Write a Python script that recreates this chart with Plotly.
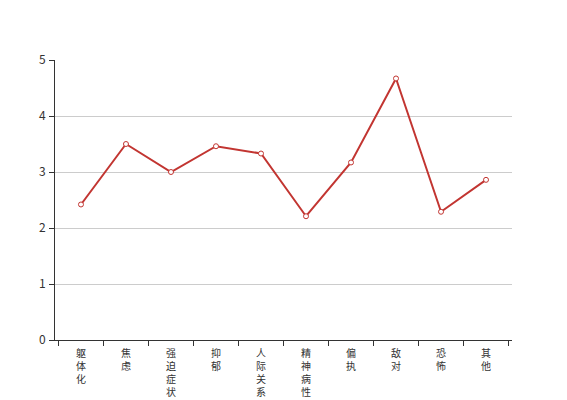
import plotly.graph_objects as go

# SCL-90 factor scores
categories = ["躯体化", "焦虑", "强迫症状", "抑郁", "人际关系敏感",
              "精神病性", "偏执", "敌对", "恐怖", "其他"]
scores = [2.42, 3.50, 3.00, 3.46, 3.33, 2.21, 3.17, 4.67, 2.29, 2.86]
y_ticks = [0, 1, 2, 3, 4, 5]

# stack characters vertically like the original axis labels
vertical_labels = ["<br>".join(list(c)) for c in categories]

fig = go.Figure()
fig.add_trace(go.Scatter(
    x=categories, y=scores,
    mode="lines+markers",
    line=dict(color="#c23531", width=2),
    marker=dict(symbol="circle", size=5, color="white",
                line=dict(color="#c23531", width=1)),
))

# page body has an 8px margin, so the figure is a bit smaller than the window
fig.update_layout(
    width=559, height=392,
    margin=dict(l=47, r=55, t=52, b=60),
    paper_bgcolor="white", plot_bgcolor="white",
    showlegend=False, hovermode=False,
    font=dict(family="Noto Sans CJK SC, DejaVu Sans", size=12, color="#333"),
    xaxis=dict(
        type="category", automargin=False,
        tickvals=categories, ticktext=vertical_labels,
        tickson="boundaries", ticks="outside", ticklen=5, tickcolor="#333",
        ticklabelstandoff=4,
        showline=True, linecolor="#333", linewidth=1,
        showgrid=False, zeroline=False,
        tickangle=0, tickfont=dict(size=10, color="#333"),
    ),
    yaxis=dict(
        range=[0, 5], tickvals=y_ticks, automargin=False,
        ticks="outside", ticklen=5, tickcolor="#333",
        ticklabelstandoff=1,
        showline=True, linecolor="#333", linewidth=1,
        showgrid=True, gridcolor="#ccc", gridwidth=1,
        zeroline=False, tickfont=dict(size=12, color="#333"),
    ),
)

fig.write_html("out.html")
